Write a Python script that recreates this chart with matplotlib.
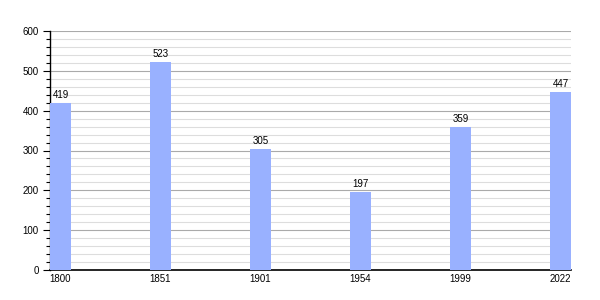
import matplotlib
matplotlib.use("Agg")
import matplotlib.pyplot as plt
from matplotlib.ticker import MultipleLocator

years = ["1800", "1851", "1901", "1954", "1999", "2022"]
population = [419, 523, 305, 197, 359, 447]

plt.rcParams['font.family'] = ['Liberation Sans', 'DejaVu Sans']

fig = plt.figure(figsize=(6, 3), dpi=100)
ax = fig.add_axes([50/600, 30/300, 521/600, 239/300])

pos = list(range(len(years)))
w = 0.21
bars = ax.bar(pos, population, width=w, align='edge', color='#99b1ff', zorder=3)
for p, v in zip(pos, population):
    ax.annotate(str(v), (p + w/2, v), xytext=(0, 2), textcoords='offset points',
                ha='center', va='bottom', fontsize=7, zorder=4)

ax.set_xlim(0, len(years) - 1 + w)
ax.set_ylim(0, 600)
ax.set_xticks([p + w/2 for p in pos])
ax.set_xticklabels(years, fontsize=7)
ax.yaxis.set_major_locator(MultipleLocator(100))
ax.yaxis.set_minor_locator(MultipleLocator(20))
ax.tick_params(axis='y', which='major', length=5, width=0.8, labelsize=7, pad=3)
ax.tick_params(axis='y', which='minor', length=3, width=0.8)
ax.tick_params(axis='x', length=0, pad=3)
ax.grid(axis='y', which='major', color='#aaaaaa', linewidth=0.8, zorder=1)
ax.grid(axis='y', which='minor', color='#dddddd', linewidth=0.8, zorder=1)
for s in ['top', 'right']:
    ax.spines[s].set_visible(False)
ax.spines['left'].set_linewidth(1)
ax.spines['bottom'].set_linewidth(1.2)

fig.savefig("out.png", dpi=100)
